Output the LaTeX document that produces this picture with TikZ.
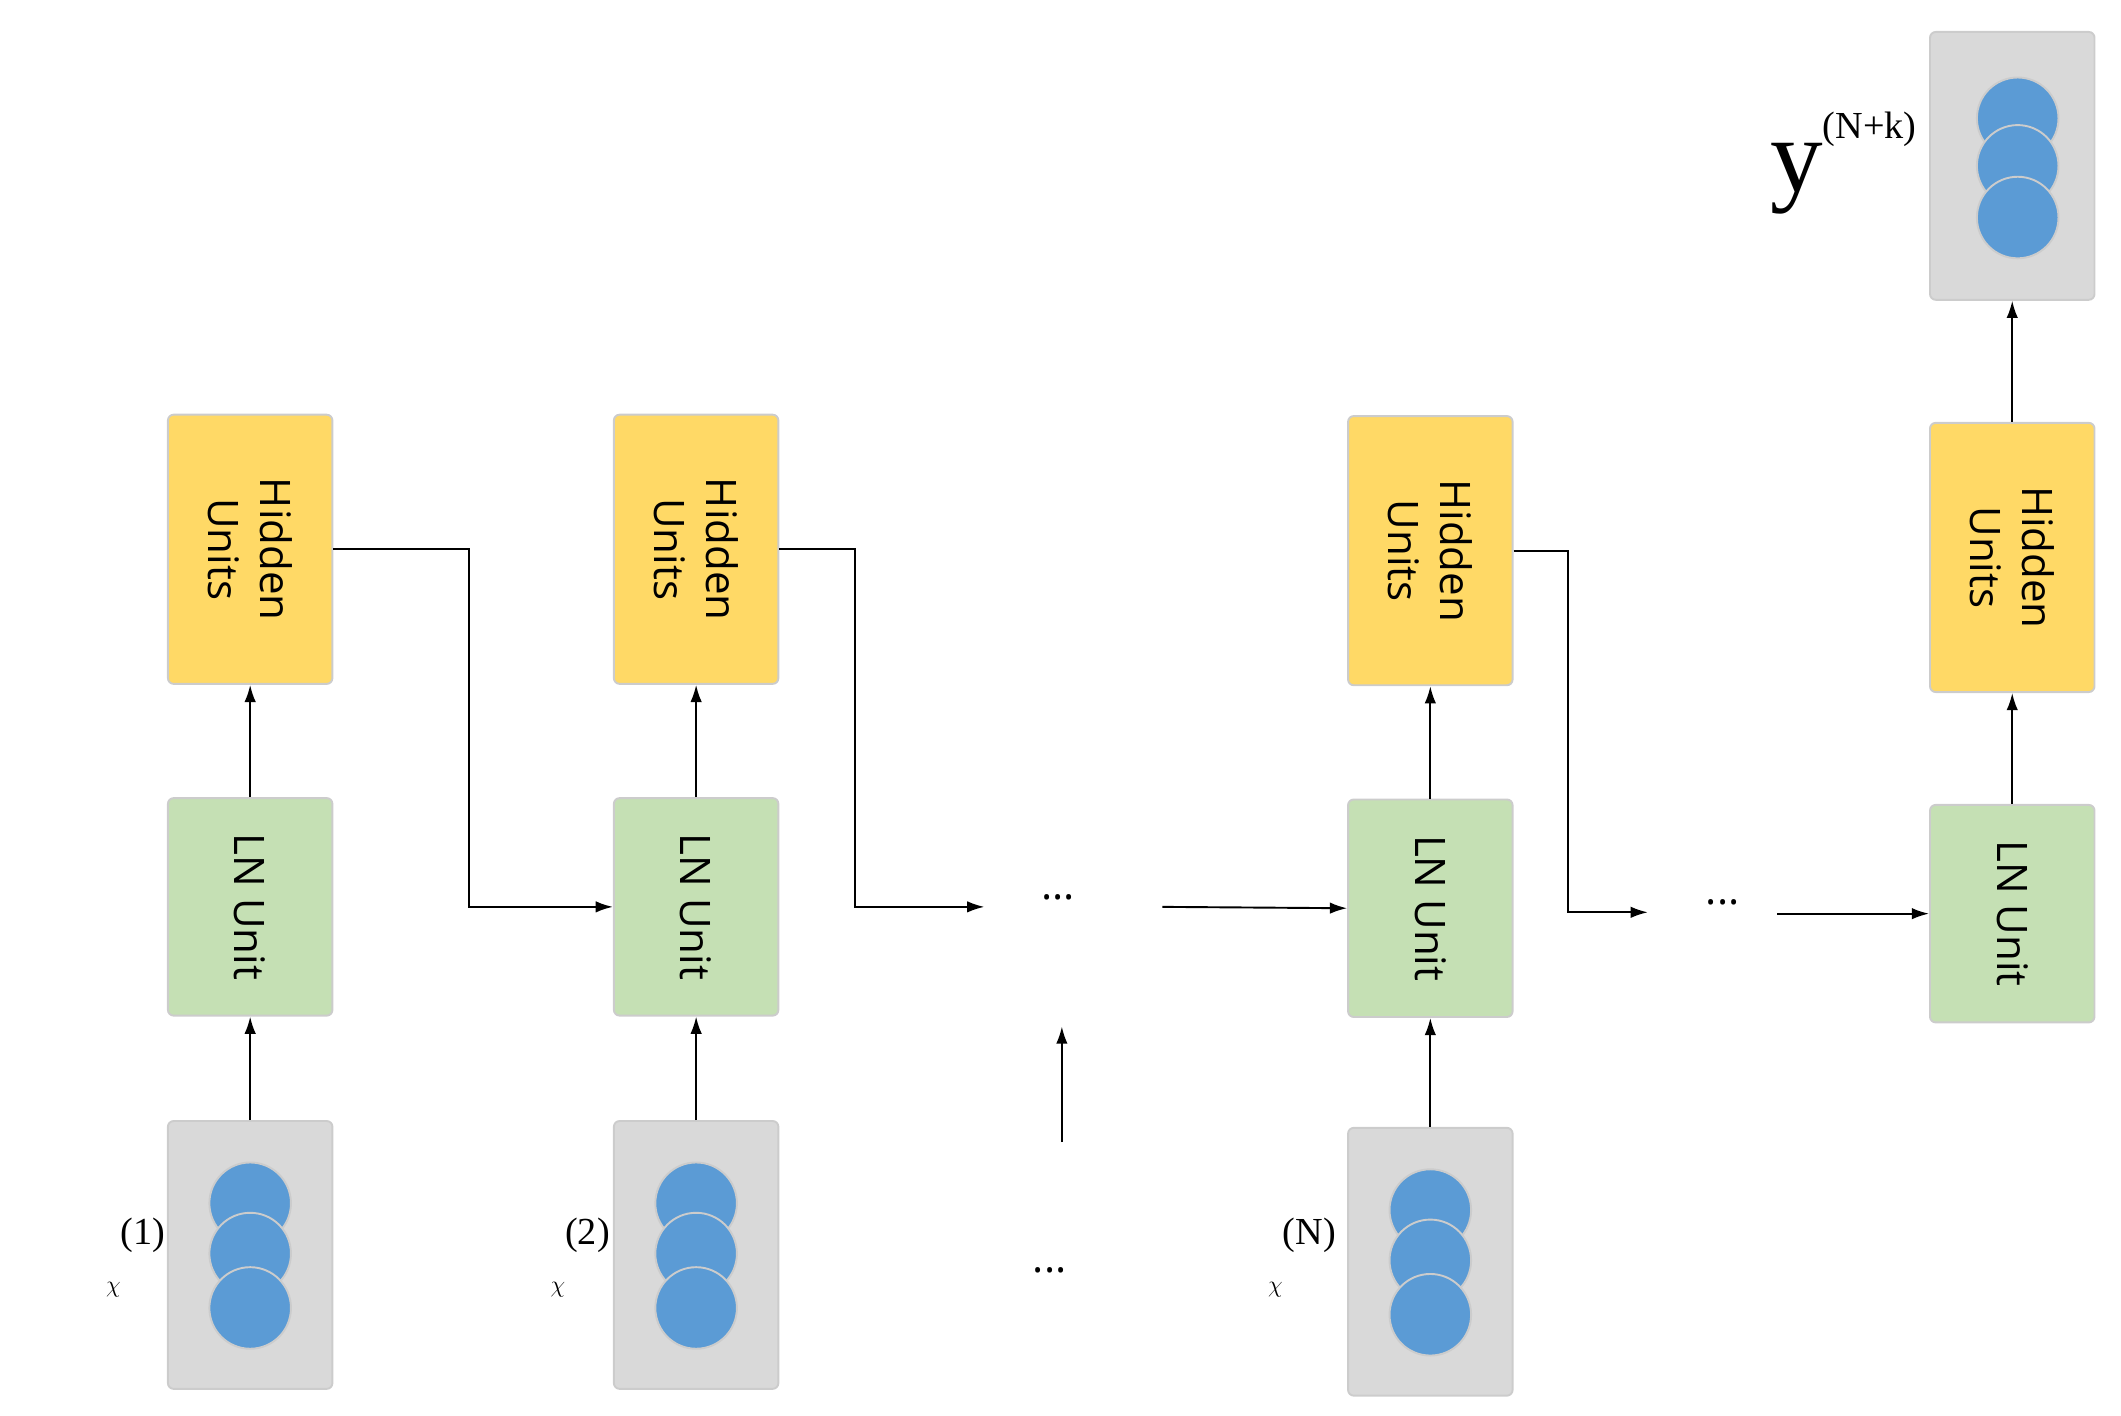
\documentclass[tikz,border=0pt]{standalone}
\usepackage{fontspec}
\setmainfont{Liberation Serif}
\newfontfamily\boxfont{Open Sans}
\usetikzlibrary{arrows.meta}
\begin{document}
\begin{tikzpicture}[x=0.05cm,y=-0.05cm,
 box/.style={draw=black!20,line width=2pt,rounded corners=6pt,minimum width=121*0.05cm,inner sep=0pt},
 hid/.style={box,fill=yellow!60!orange!70!white,fill={rgb,255:red,255;green,217;blue,102},minimum height=198*0.05cm},
 ln/.style={box,fill={rgb,255:red,197;green,224;blue,180},minimum height=160*0.05cm},
 inp/.style={box,fill={rgb,255:red,217;green,217;blue,217},minimum height=197*0.05cm},
 circ/.style={circle,draw=black!20,line width=2pt,fill={rgb,255:red,91;green,155;blue,213},minimum size=60*0.05cm,inner sep=0pt},
 txt/.style={rotate=-90,font=\boxfont\fontsize{44}{54}\selectfont,align=center},
 arr/.style={-{Latex[length=18pt,width=12pt]},line width=2pt},
 lab/.style={font=\fontsize{110}{120}\selectfont}]
\useasboundingbox (0,0) rectangle (1560,1041);
\foreach \n/\x/\hy/\ly/\iy in {1/184/404/667/923, 2/512/404/667/923, 3/1052/405/668/928}{
 \node[hid] (h\n) at (\x,\hy) {};
 \node[txt] at (h\n) {Hidden\\Units};
 \node[ln] (l\n) at (\x,\ly) {};
 \node[txt] at (l\n) {LN Unit};
 \node[inp] (i\n) at (\x,\iy) {};
 \node[circ] (c\n a) at (\x,\iy-38) {};
 \node[circ] (c\n b) at (\x,\iy-1) {};
 \node[circ] (c\n c) at (\x,\iy+39) {};
 \draw[arr] (i\n) -- (l\n);
 \draw[arr] (l\n) -- (h\n);
}
\node[hid] (h4) at (1480,410) {};
\node[txt] at (h4) {Hidden\\Units};
\node[ln] (l4) at (1480,672) {};
\node[txt] at (l4) {LN Unit};
\node[inp] (o) at (1480,122) {};
\node[circ] (oa) at (1484,87) {};
\node[circ] (ob) at (1484,122) {};
\node[circ] (oc) at (1484,160) {};
\draw[arr] (l4) -- (h4);
\draw[arr] (h4) -- (o);
\node[lab,anchor=east] at (124,925) {$\chi$\raisebox{0.45em}{\fontsize{40}{48}\selectfont(1)}};
\node[lab,anchor=east] at (451,925) {$\chi$\raisebox{0.45em}{\fontsize{40}{48}\selectfont(2)}};
\node[lab,anchor=east] at (985,925) {$\chi$\raisebox{0.45em}{\fontsize{40}{48}\selectfont(N)}};
\node[lab,anchor=east] at (1412,120) {y\raisebox{0.5em}{\fontsize{40}{48}\selectfont(N+k)}};
\node[font=\boxfont\fontsize{44}{54}\selectfont] (d1) at (778,660) {...};
\node[font=\boxfont\fontsize{44}{54}\selectfont] (d2) at (1267,664) {...};
\node[font=\boxfont\fontsize{44}{54}\selectfont] (d3) at (772,934) {...};
\coordinate (e1) at (724,667);
\coordinate (e2) at (1212,671);
\coordinate (s1) at (855,667);
\coordinate (s2) at (1307,672);
\coordinate (u1) at (781,840);
\coordinate (u2) at (781,755);
\draw[arr] (h1.east) -- (345,404) -- (345,667) -- (l2.west);
\draw[arr] (h2.east) -- (629,404) -- (629,667) -- (e1);
\draw[arr] (h3.east) -- (1153,405) -- (1153,671) -- (e2);
\draw[arr] (s1) -- (l3.west);
\draw[arr] (s2) -- (l4.west);
\draw[arr] (u1) -- (u2);
\end{tikzpicture}
\end{document}
